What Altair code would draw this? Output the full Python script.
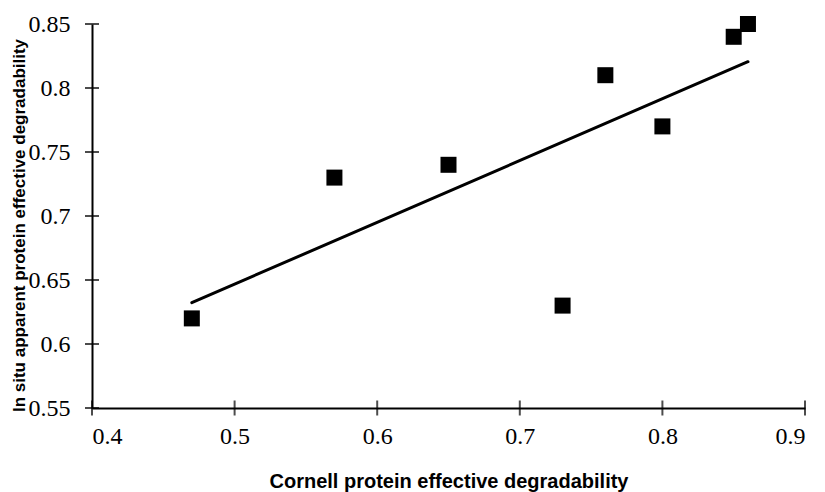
import altair as alt
import pandas as pd

cornell = [0.47, 0.57, 0.65, 0.73, 0.76, 0.80, 0.85, 0.86]
insitu = [0.62, 0.73, 0.74, 0.63, 0.81, 0.77, 0.84, 0.85]
x_ticks = [0.4, 0.5, 0.6, 0.7, 0.8, 0.9]
y_ticks = [0.55, 0.6, 0.65, 0.7, 0.75, 0.8, 0.85]

df = pd.DataFrame({"cornell": cornell, "insitu": insitu})
xt = pd.DataFrame({"v": x_ticks})
yt = pd.DataFrame({"v": y_ticks})

xscale = alt.Scale(domain=[0.4, 0.9], nice=False, zero=False)
yscale = alt.Scale(domain=[0.55, 0.85], nice=False, zero=False)

SERIF = "Liberation Serif"
SANS = "Liberation Sans"

xaxis = alt.Axis(
    title="Cornell protein effective degradability",
    values=x_ticks, format="~f",
    labelPadding=16,
    titleFont=SANS, titleFontSize=20, titleFontWeight="bold", titleColor="black",
    titleY=79, titleBaseline="alphabetic",
)
yaxis = alt.Axis(
    title="In situ apparent protein effective degradability",
    values=y_ticks, format="~f",
    labelPadding=22,
    titleFont=SANS, titleFontSize=17, titleFontWeight="bold", titleColor="black",
    titleX=-68, titleY=201, titleAngle=270,
    titleAlign="center", titleBaseline="alphabetic",
)

points = alt.Chart(df).mark_square(size=256, color="black", opacity=1).encode(
    x=alt.X("cornell:Q", scale=xscale, axis=xaxis),
    y=alt.Y("insitu:Q", scale=yscale, axis=yaxis),
)

trend = alt.Chart(df).transform_regression("cornell", "insitu").mark_line(
    color="black", strokeWidth=3, strokeCap="round"
).encode(
    x=alt.X("cornell:Q", scale=xscale, axis=xaxis),
    y=alt.Y("insitu:Q", scale=yscale, axis=yaxis),
)

yticks_layer = alt.Chart(yt).mark_tick(color="black", thickness=2, size=14, orient="horizontal").encode(
    y=alt.Y("v:Q", scale=yscale, axis=yaxis),
    x=alt.datum(0.4, scale=xscale, axis=xaxis),
)
xticks_layer = alt.Chart(xt).mark_tick(color="black", thickness=2, size=15, orient="vertical").encode(
    x=alt.X("v:Q", scale=xscale, axis=xaxis),
    y=alt.datum(0.55, scale=yscale, axis=yaxis),
)

chart = alt.layer(points, trend, yticks_layer, xticks_layer).properties(
    width=713, height=384,
    autosize=alt.AutoSizeParams(type="none"),
    padding={"left": 84, "top": 16, "right": 12, "bottom": 84},
    background="white",
).configure_view(stroke=None).configure_axis(
    grid=False, ticks=False,
    domainColor="black", domainWidth=2,
    labelFont=SERIF, labelFontSize=24, labelColor="black",
).configure_axisX(
    labelFont="Liberation Serif", labelFontSize=24,
).configure_axisY(
    labelFont="Liberation Serif", labelFontSize=24,
)

chart.save("out.html", embed_options={"renderer": "svg", "actions": False})
